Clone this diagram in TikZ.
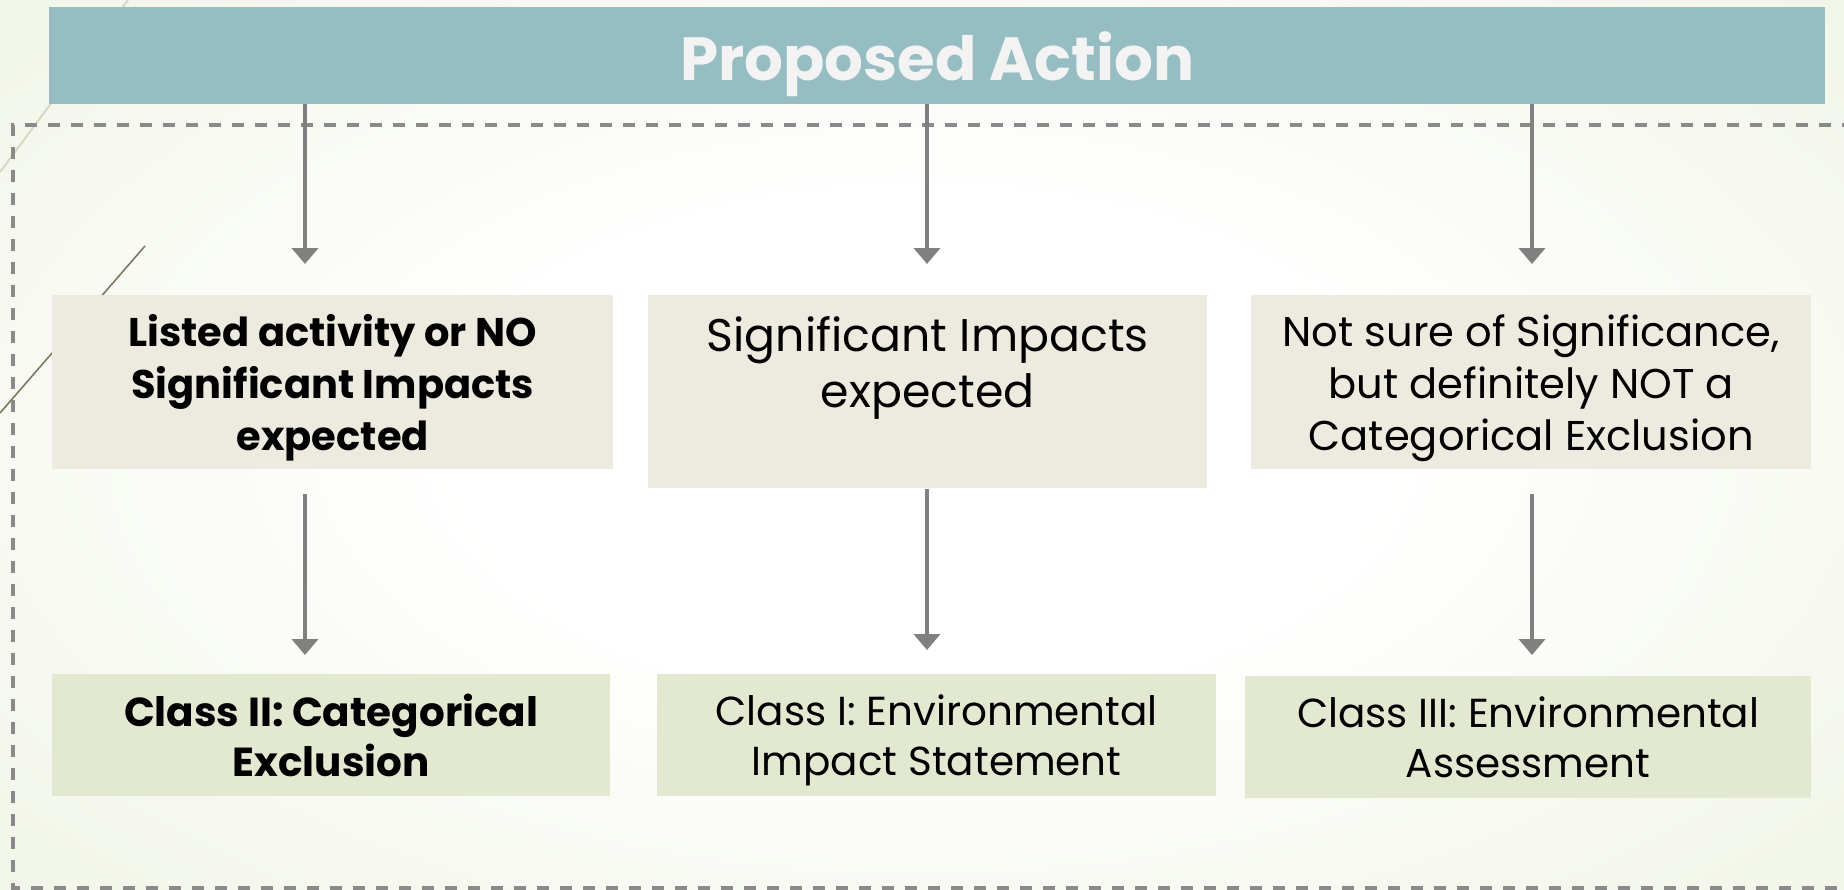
\documentclass[tikz,border=0pt]{standalone}
\usepackage{fontspec}
\setmainfont{Poppins}
\usetikzlibrary{arrows.meta,calc}
\definecolor{titlebg}{RGB}{149,189,194}
\definecolor{boxA}{RGB}{237,235,224}
\definecolor{boxB}{RGB}{227,233,208}
\definecolor{bgg}{RGB}{226,233,206}
\definecolor{arrgray}{RGB}{128,128,128}
\definecolor{dashgray}{RGB}{138,138,138}
\definecolor{oliveline}{RGB}{122,115,88}
\definecolor{paleline}{RGB}{214,216,196}
\definecolor{titletext}{RGB}{243,243,243}
\pgfdeclareradialshading{bgshade}{\pgfpoint{0bp}{0bp}}{color(0bp)=(white); color(12bp)=(white); color(48bp)=(bgg!80!white); color(72bp)=(bgg)}
\begin{document}
\begin{tikzpicture}[x=1pt,y=-1pt,
  rowone/.style={fill=boxA, draw=none, inner sep=0pt, anchor=north west, align=center, text=black, text depth=0pt},
  rowtwo/.style={fill=boxB, draw=none, inner sep=0pt, anchor=north west, align=center, text=black, text depth=0pt},
  arr/.style={draw=arrgray, line width=4pt, -{Triangle[width=26pt,length=16pt]}},
  boldtxt/.style={font=\fontsize{40}{52}\selectfont\bfseries},
  regtxt/.style={font=\fontsize{41.6}{52}\selectfont},
  midtxt/.style={font=\fontsize{45.8}{56}\selectfont},
  lowtxt/.style={font=\fontsize{40.5}{50}\selectfont},
  lowbold/.style={font=\fontsize{40.5}{50}\selectfont\bfseries}]
\useasboundingbox (0,0) rectangle (1844,889);
\clip (0,0) rectangle (1844,889);
\shade[shading=bgshade] (-40,-60) rectangle (1884,949);
% decorative lines
\draw[paleline, line width=2pt] (0,172) -- (128,0);
\draw[oliveline, line width=1.5pt] (0,413) -- (145,246);
% dashed frame
\draw[dashgray, line width=3.5pt, dash pattern=on 12pt off 11pt] (1900,125) -- (13,125) -- (13,888) -- (1900,888);
% title
\node[fill=titlebg, inner sep=0pt, anchor=north west, minimum width=1776pt, minimum height=97pt,
  text depth=0pt, text=titletext, font=\fontsize{61}{70}\selectfont\bfseries] (title) at (49,7) {Proposed Action};
% row one
\node[rowone, boldtxt, minimum width=561pt, minimum height=174pt] (b1) at (52,295)
  {Listed activity or NO\\Significant Impacts\\expected};
\node[rowone, minimum width=559pt, minimum height=193pt] (b2) at (648,295) {};
\node[midtxt, align=center, inner sep=0pt, anchor=north] (b2t) at ($(b2.north)+(0,21)$)
  {Significant Impacts\\expected};
\node[rowone, regtxt, minimum width=560pt, minimum height=174pt] (b3) at (1251,295)
  {Not sure of Significance,\\but definitely NOT a\\Categorical Exclusion};
% row two
\node[rowtwo, lowbold, minimum width=558pt, minimum height=122pt] (r1) at (52,674)
  {Class II: Categorical\\Exclusion};
\node[rowtwo, lowtxt, minimum width=559pt, minimum height=122pt] (r2) at (657,674)
  {Class I: Environmental\\Impact Statement};
\node[rowtwo, lowtxt, minimum width=566pt, minimum height=122pt] (r3) at (1245,676)
  {Class III: Environmental\\Assessment};
% arrow columns
\coordinate (c1) at (305,0);
\coordinate (c2) at (927,0);
\coordinate (c3) at (1532,0);
\draw[arr] (title.south -| c1) -- ($(b1.north -| c1)+(0,-31)$);
\draw[arr] (title.south -| c2) -- ($(b2.north -| c2)+(0,-31)$);
\draw[arr] (title.south -| c3) -- ($(b3.north -| c3)+(0,-31)$);
\draw[arr] ($(b1.south -| c1)+(0,25)$) -- ($(r1.north -| c1)+(0,-19)$);
\draw[arr] ($(b2.south -| c2)+(0,1)$) -- ($(r2.north -| c2)+(0,-24)$);
\draw[arr] ($(b3.south -| c3)+(0,25)$) -- ($(r3.north -| c3)+(0,-21)$);
\end{tikzpicture}
\end{document}
